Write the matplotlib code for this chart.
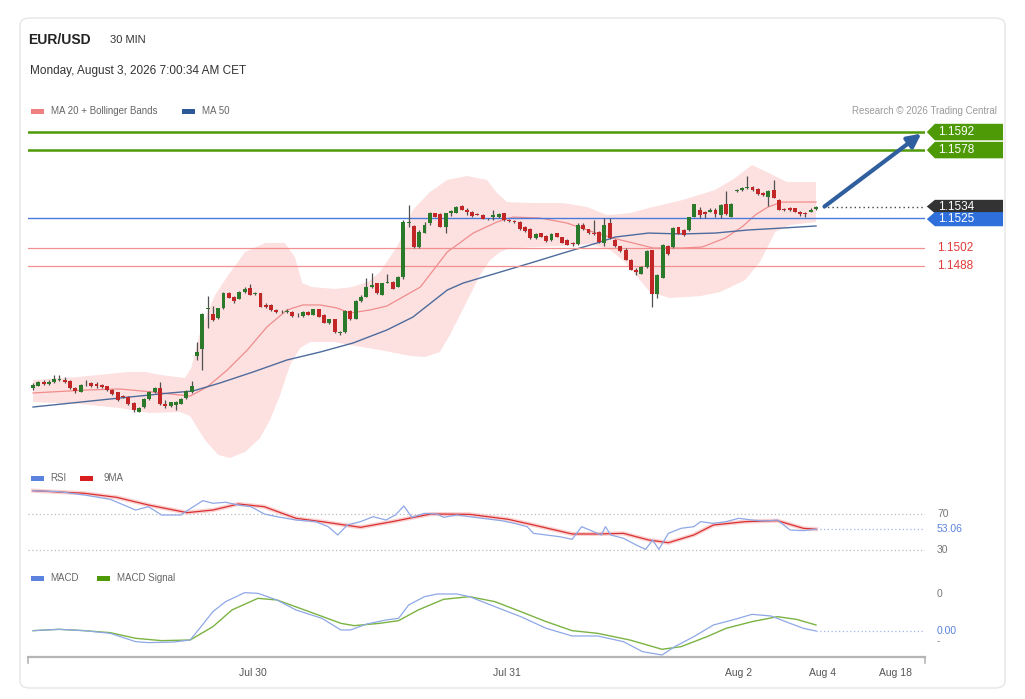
import matplotlib
matplotlib.use("Agg")
import matplotlib.pyplot as plt
import matplotlib.transforms as mtransforms
from matplotlib.patches import Polygon, Rectangle, FancyBboxPatch
import numpy as np

plt.rcParams['font.family'] = ['Liberation Sans', 'DejaVu Sans']

W, H = 1025, 699

# 30 min candles, Jul 29 -> Aug 3
opens = [
    1.13936, 1.13951, 1.13982, 1.13967, 1.13978, 1.13998, 1.13998, 1.13988, 1.13931, 1.13905,
    1.13962, 1.13972, 1.13962, 1.13957, 1.13947, 1.13920, 1.13900, 1.13869, 1.13864, 1.13817,
    1.13750, 1.13786, 1.13848, 1.13900, 1.13936, 1.13812, 1.13796, 1.13802, 1.13812, 1.13854,
    1.13900, 1.14179, 1.14236, 1.14546, 1.14505, 1.14474, 1.14552, 1.14668, 1.14637, 1.14626,
    1.14678, 1.14709, 1.14663, 1.14668, 1.14575, 1.14575, 1.14539, 1.14523, 1.14523, 1.14523,
    1.14498, 1.14492, 1.14523, 1.14502, 1.14544, 1.14500, 1.14436, 1.14467, 1.14363, 1.14368,
    1.14533, 1.14471, 1.14606, 1.14642, 1.14720, 1.14746, 1.14657, 1.14751, 1.14756, 1.14720,
    1.14793, 1.15212, 1.15191, 1.15025, 1.15139, 1.15212, 1.15289, 1.15284, 1.15185, 1.15289,
    1.15294, 1.15346, 1.15315, 1.15299, 1.15284, 1.15278, 1.15247, 1.15263, 1.15258, 1.15289,
    1.15237, 1.15232, 1.15222, 1.15185, 1.15170, 1.15097, 1.15134, 1.15113, 1.15082, 1.15134,
    1.15103, 1.15082, 1.15061, 1.15051, 1.15201, 1.15165, 1.15134, 1.15144, 1.15056, 1.15216,
    1.15082, 1.15035, 1.15007, 1.14929, 1.14847, 1.14820, 1.14872, 1.15002, 1.14661, 1.14789,
    1.15038, 1.15028, 1.15183, 1.15157, 1.15157, 1.15260, 1.15312, 1.15297, 1.15301, 1.15312,
    1.15276, 1.15359, 1.15260, 1.15462, 1.15468, 1.15488, 1.15493, 1.15478, 1.15447, 1.15416,
    1.15472, 1.15395, 1.15322, 1.15328, 1.15328, 1.15297, 1.15291, 1.15301, 1.15322,
]
highs = [
    1.13972, 1.13988, 1.13993, 1.13998, 1.14034, 1.14034, 1.14019, 1.13993, 1.13941, 1.13967,
    1.13998, 1.13982, 1.13978, 1.13967, 1.13951, 1.13926, 1.13905, 1.13879, 1.13869, 1.13823,
    1.13786, 1.13854, 1.13910, 1.13941, 1.13978, 1.13843, 1.13827, 1.13833, 1.13854, 1.13920,
    1.13988, 1.14293, 1.14513, 1.14650, 1.14572, 1.14557, 1.14681, 1.14676, 1.14647, 1.14689,
    1.14715, 1.14741, 1.14678, 1.14673, 1.14591, 1.14585, 1.14549, 1.14539, 1.14549, 1.14533,
    1.14513, 1.14529, 1.14529, 1.14549, 1.14549, 1.14508, 1.14471, 1.14471, 1.14378, 1.14539,
    1.14539, 1.14616, 1.14653, 1.14785, 1.14824, 1.14751, 1.14751, 1.14818, 1.14766, 1.14803,
    1.15237, 1.15356, 1.15201, 1.15160, 1.15222, 1.15297, 1.15294, 1.15289, 1.15294, 1.15317,
    1.15346, 1.15356, 1.15328, 1.15305, 1.15291, 1.15284, 1.15253, 1.15312, 1.15289, 1.15294,
    1.15243, 1.15237, 1.15227, 1.15191, 1.15173, 1.15134, 1.15139, 1.15121, 1.15134, 1.15139,
    1.15108, 1.15087, 1.15066, 1.15212, 1.15212, 1.15170, 1.15237, 1.15154, 1.15253, 1.15253,
    1.15087, 1.15038, 1.15020, 1.14934, 1.14867, 1.14878, 1.15002, 1.15007, 1.14818, 1.15051,
    1.15043, 1.15183, 1.15185, 1.15165, 1.15263, 1.15364, 1.15338, 1.15305, 1.15328, 1.15328,
    1.15359, 1.15462, 1.15369, 1.15478, 1.15493, 1.15576, 1.15498, 1.15483, 1.15454, 1.15468,
    1.15545, 1.15400, 1.15332, 1.15336, 1.15332, 1.15305, 1.15297, 1.15328, 1.15343,
]
lows = [
    1.13920, 1.13947, 1.13957, 1.13957, 1.13972, 1.13988, 1.13972, 1.13926, 1.13895, 1.13900,
    1.13951, 1.13941, 1.13936, 1.13936, 1.13910, 1.13879, 1.13833, 1.13854, 1.13802, 1.13750,
    1.13745, 1.13781, 1.13843, 1.13895, 1.13802, 1.13781, 1.13786, 1.13760, 1.13807, 1.13848,
    1.13895, 1.14148, 1.14073, 1.14397, 1.14453, 1.14469, 1.14546, 1.14630, 1.14595, 1.14622,
    1.14673, 1.14653, 1.14653, 1.14560, 1.14554, 1.14533, 1.14518, 1.14513, 1.14518, 1.14487,
    1.14487, 1.14487, 1.14498, 1.14498, 1.14482, 1.14436, 1.14430, 1.14363, 1.14342, 1.14363,
    1.14461, 1.14467, 1.14601, 1.14637, 1.14709, 1.14663, 1.14653, 1.14746, 1.14699, 1.14715,
    1.14779, 1.15185, 1.15020, 1.15020, 1.15134, 1.15201, 1.15258, 1.15183, 1.15134, 1.15268,
    1.15289, 1.15312, 1.15278, 1.15263, 1.15274, 1.15243, 1.15237, 1.15237, 1.15253, 1.15232,
    1.15222, 1.15216, 1.15160, 1.15144, 1.15087, 1.15087, 1.15103, 1.15066, 1.15077, 1.15103,
    1.15056, 1.15043, 1.15038, 1.15045, 1.15160, 1.15129, 1.15121, 1.15056, 1.15038, 1.15087,
    1.15028, 1.14992, 1.14924, 1.14847, 1.14810, 1.14818, 1.14867, 1.14564, 1.14634, 1.14785,
    1.14966, 1.15020, 1.15129, 1.15113, 1.15152, 1.15258, 1.15255, 1.15255, 1.15297, 1.15260,
    1.15250, 1.15276, 1.15258, 1.15454, 1.15462, 1.15478, 1.15462, 1.15431, 1.15426, 1.15343,
    1.15406, 1.15312, 1.15305, 1.15309, 1.15297, 1.15268, 1.15260, 1.15297, 1.15317,
]
closes = [
    1.13957, 1.13982, 1.13962, 1.13978, 1.14003, 1.14003, 1.13982, 1.13931, 1.13910, 1.13957,
    1.13967, 1.13951, 1.13947, 1.13941, 1.13916, 1.13885, 1.13843, 1.13864, 1.13807, 1.13760,
    1.13781, 1.13848, 1.13900, 1.13931, 1.13807, 1.13796, 1.13823, 1.13827, 1.13848, 1.13910,
    1.13951, 1.14215, 1.14505, 1.14552, 1.14461, 1.14552, 1.14668, 1.14634, 1.14606, 1.14678,
    1.14704, 1.14657, 1.14668, 1.14564, 1.14564, 1.14539, 1.14523, 1.14523, 1.14529, 1.14492,
    1.14502, 1.14523, 1.14502, 1.14544, 1.14487, 1.14440, 1.14467, 1.14368, 1.14368, 1.14533,
    1.14467, 1.14611, 1.14642, 1.14720, 1.14730, 1.14668, 1.14746, 1.14756, 1.14704, 1.14793,
    1.15224, 1.15224, 1.15025, 1.15144, 1.15201, 1.15289, 1.15263, 1.15185, 1.15289, 1.15305,
    1.15340, 1.15315, 1.15299, 1.15268, 1.15278, 1.15247, 1.15243, 1.15274, 1.15284, 1.15237,
    1.15227, 1.15222, 1.15165, 1.15154, 1.15097, 1.15129, 1.15108, 1.15077, 1.15129, 1.15108,
    1.15061, 1.15045, 1.15051, 1.15201, 1.15165, 1.15134, 1.15129, 1.15066, 1.15201, 1.15097,
    1.15035, 1.14997, 1.14929, 1.14851, 1.14831, 1.14872, 1.14997, 1.14661, 1.14810, 1.15043,
    1.14971, 1.15173, 1.15131, 1.15121, 1.15260, 1.15359, 1.15276, 1.15281, 1.15317, 1.15286,
    1.15354, 1.15281, 1.15364, 1.15472, 1.15488, 1.15493, 1.15468, 1.15437, 1.15431, 1.15462,
    1.15410, 1.15317, 1.15312, 1.15317, 1.15301, 1.15286, 1.15281, 1.15317, 1.15338,
]

# bollinger bands / moving averages (candle index, price)
band_up_idx = [0, 8.5, 18.0, 21.2, 24.2, 28.7, 29.9, 31.8, 34.4, 36.9, 40.1, 43.9, 47.6, 49.5,
               50.9, 52.7, 57.1, 60.3, 63.3, 65.6, 69.0, 71.8, 75.0, 78.3, 82.0, 85.8, 87.7,
               89.6, 94.0, 100.2, 104.7, 108.5, 112.9, 116.3, 122.7, 128.9, 132.7, 135.9,
               139.9, 142.5, 148]
band_up = [1.13996, 1.14019, 1.14058, 1.14058, 1.14034, 1.14011, 1.14089, 1.14399, 1.14655,
           1.14810, 1.14989, 1.15059, 1.15059, 1.14950, 1.14748, 1.14717, 1.14702, 1.14717,
           1.14756, 1.14834, 1.15043, 1.15315, 1.15454, 1.15548, 1.15579, 1.15548, 1.15447,
           1.15377, 1.15369, 1.15369, 1.15338, 1.15276, 1.15291, 1.15330, 1.15392, 1.15470,
           1.15563, 1.15664, 1.15586, 1.15532, 1.15532]
band_lo_idx = [0, 8.9, 16.4, 22.1, 27.8, 29.7, 32.5, 35.0, 37.2, 40.1, 42.9, 44.8, 46.7, 48.6,
               50.5, 52.4, 57.1, 59.9, 65.6, 71.3, 74.1, 76.9, 78.8, 80.7, 82.6, 84.5, 86.4,
               88.3, 90.2, 99.6, 105.3, 109.1, 111.9, 114.7, 116.6, 120.4, 126.1, 129.9,
               134.6, 137.4, 140.3, 143.1, 148]
band_lo = [1.13825, 1.13809, 1.13778, 1.13739, 1.13747, 1.13716, 1.13530, 1.13414, 1.13390,
           1.13437, 1.13545, 1.13685, 1.13879, 1.14112, 1.14244, 1.14290, 1.14290, 1.14267,
           1.14228, 1.14182, 1.14174, 1.14213, 1.14345, 1.14500, 1.14655, 1.14810, 1.14927,
           1.14989, 1.15020, 1.15035, 1.15051, 1.15004, 1.14911, 1.14772, 1.14678, 1.14632,
           1.14647, 1.14678, 1.14772, 1.14911, 1.15144, 1.15198, 1.15222]
ma20_idx = [0, 10.2, 16.4, 22.7, 27.8, 29.7, 32.9, 36.7, 40.5, 44.2, 48.0, 51.0, 54.3, 57.5,
            59.9, 63.7, 66.9, 69.9, 73.2, 78.3, 83.2, 87.7, 90.7, 95.8, 100.9, 105.9, 109.6,
            113.4, 117.2, 122.7, 126.5, 130.8, 134.0, 136.5, 138.9, 141.6, 145.4, 148]
ma20 = [1.13895, 1.13918, 1.13926, 1.13902, 1.13879, 1.13871, 1.13941, 1.14073, 1.14228,
        1.14407, 1.14539, 1.14578, 1.14578, 1.14554, 1.14515, 1.14539, 1.14570, 1.14640,
        1.14717, 1.14989, 1.15136, 1.15222, 1.15260, 1.15253, 1.15214, 1.15144, 1.15097,
        1.15059, 1.15020, 1.15020, 1.15028, 1.15097, 1.15183, 1.15276, 1.15338, 1.15377,
        1.15377, 1.15377]
ma50_idx = [0, 16.4, 25.9, 30.2, 35.3, 41.6, 48.0, 54.3, 60.5, 66.9, 71.8, 78.3, 81.3, 87.7,
            94.0, 100.2, 106.6, 110.0, 116.3, 122.7, 128.9, 135.2, 141.6, 148]
ma50 = [1.13786, 1.13856, 1.13895, 1.13910, 1.13972, 1.14058, 1.14151, 1.14213, 1.14283,
        1.14384, 1.14484, 1.14694, 1.14748, 1.14826, 1.14903, 1.14981, 1.15059, 1.15105,
        1.15136, 1.15129, 1.15136, 1.15160, 1.15175, 1.15191]

# support / resistance levels
targets = [1.1592, 1.1578]
pivot = 1.1525
supports = [1.1502, 1.1488]

# RSI panel
rsi_idx = [0, 4.9, 9.7, 14.6, 19.4, 21.8, 24.3, 27.9, 30.3, 32.1, 34.0, 36.4, 38.8, 41.2, 43.7,
           46.1, 49.7, 53.4, 55.8, 57.6, 59.4, 61.9, 64.3, 66.7, 68.5, 70.1, 71.6, 74.0, 76.4,
           77.6, 80.1, 82.5, 84.9, 88.5, 91.0, 93.4, 94.6, 97.0, 99.5, 101.9, 103.7, 105.5,
           107.4, 108.2, 109.2, 111.6, 114.0, 115.8, 117.1, 118.3, 120.1, 122.5, 124.9, 126.2,
           128.6, 131.0, 133.4, 135.9, 138.3, 140.7, 143.1, 145.6, 148]
rsi = [95.9, 94.8, 91.1, 86.3, 74.4, 78.1, 68.9, 68.9, 78.1, 84.8, 81.9, 83.0, 80.0, 78.1, 70.0,
       67.0, 63.3, 61.5, 55.9, 46.7, 57.8, 61.5, 67.0, 63.3, 68.9, 78.9, 66.3, 70.7, 70.0, 66.3,
       68.9, 67.0, 65.2, 62.6, 59.6, 55.9, 48.5, 46.7, 44.8, 41.9, 55.9, 51.5, 46.7, 55.9, 46.7,
       43.0, 35.6, 30.7, 41.1, 30.7, 48.5, 54.1, 55.9, 61.5, 59.6, 61.5, 65.2, 63.3, 62.2, 63.3,
       52.2, 51.5, 53.06]
rsi_ma_idx = [0, 9.7, 15.8, 21.8, 29.1, 34.0, 38.8, 43.7, 49.7, 54.6, 61.9, 67.9, 75.2, 82.5,
              89.8, 94.6, 101.9, 106.7, 111.6, 116.4, 120.1, 124.9, 128.6, 134.6, 140.7, 145.6, 148]
rsi_ma = [95.9, 93.0, 88.5, 80.0, 71.5, 74.4, 81.1, 78.1, 65.2, 61.5, 55.2, 61.5, 70.0, 69.6,
          64.1, 57.8, 47.8, 47.8, 48.5, 41.1, 38.1, 46.7, 57.8, 61.5, 62.6, 54.1, 53.06]

# MACD panel (x 0.001)
macd_idx = [0, 4.9, 9.7, 14.6, 19.4, 21.8, 26.7, 29.7, 31.5, 34.0, 36.4, 40.0, 42.5, 46.1, 49.7,
            54.6, 58.2, 60.0, 63.1, 66.7, 69.1, 71.0, 74.0, 76.4, 80.1, 82.5, 87.3, 92.2, 97.0,
            101.9, 106.7, 111.6, 115.2, 118.9, 121.3, 124.9, 128.6, 132.2, 135.9, 139.5, 143.1,
            145.6, 148]
macd = [0.009, 0.045, 0.009, -0.063, -0.288, -0.315, -0.297, -0.243, 0.072, 0.523, 0.793, 1.036,
        1.018, 0.838, 0.568, 0.342, 0.027, 0.027, 0.189, 0.297, 0.342, 0.703, 0.928, 1.000,
        1.000, 0.928, 0.658, 0.387, 0.072, -0.135, -0.135, -0.288, -0.559, -0.649, -0.423,
        -0.153, 0.162, 0.297, 0.450, 0.405, 0.207, 0.072, 0.0]
signal_idx = [0, 4.9, 9.7, 14.6, 19.4, 24.3, 29.7, 34.0, 37.6, 42.5, 46.1, 52.2, 58.2, 60.7,
              65.5, 69.1, 72.8, 77.6, 82.5, 87.3, 92.2, 97.0, 101.9, 106.7, 112.8, 118.9, 122.5,
              127.4, 131.0, 135.9, 140.7, 144.3, 148]
signal = [0.009, 0.045, 0.009, -0.045, -0.198, -0.261, -0.243, 0.117, 0.568, 0.883, 0.838,
          0.523, 0.207, 0.144, 0.207, 0.279, 0.568, 0.856, 0.928, 0.793, 0.523, 0.252, 0.009,
          -0.063, -0.243, -0.495, -0.423, -0.153, 0.072, 0.252, 0.387, 0.315, 0.162]

tick_pos = [41.6, 89.6, 133.3, 149.2, 163.0]
tick_labels = ["Jul 30", "Jul 31", "Aug 2", "Aug 4", "Aug 18"]

XLIM = (-0.95, 168.6)


def fbox(x0, y0, x1, y1):
    # pixel box -> figure fraction rect
    return [x0 / W, 1 - y1 / H, (x1 - x0) / W, (y1 - y0) / H]


def price_tag(ax, price, text, color, half, z):
    tr = mtransforms.blended_transform_factory(ax.transAxes, ax.transData)
    pts = [(1.002, price), (1.011, price + half), (1.087, price + half),
           (1.087, price - half), (1.011, price - half)]
    ax.add_patch(Polygon(pts, closed=True, transform=tr, facecolor=color,
                         edgecolor='none', clip_on=False, zorder=z))
    ax.text(1.0145, price, text, transform=tr, color='white', fontsize=8.5,
            va='center', ha='left', clip_on=False, zorder=z + 0.1)


def draw_price(fig):
    ax = fig.add_axes(fbox(28, 122, 925, 465))
    ax.set_xlim(*XLIM)
    ax.set_ylim(1.13336, 1.15998)
    ax.axis('off')

    ax.fill(np.concatenate([band_up_idx, band_lo_idx[::-1]]),
            np.concatenate([band_up, band_lo[::-1]]),
            color='#fde1e1', lw=0, zorder=1)
    ax.plot(ma20_idx, ma20, color='#f08c8c', lw=0.9, zorder=2)
    ax.plot(ma50_idx, ma50, color='#4d6b9c', lw=1.0, zorder=2)

    for t in targets:
        ax.axhline(t, color='#4e9a06', lw=1.8, zorder=3)
    ax.axhline(pivot, color='#4a7bdc', lw=1.0, zorder=3)
    for s in supports:
        ax.axhline(s, color='#f29090', lw=0.9, zorder=3)

    o = np.array(opens)
    c = np.array(closes)
    idx = np.arange(len(c))
    cols = np.where(np.abs(c - o) < 0.00003, '#444444',
                    np.where(c > o, '#2b7a2b', '#c22626'))
    ax.vlines(idx, lows, highs, colors='#505050', lw=0.9, zorder=4)
    ax.bar(idx, np.maximum(np.abs(c - o), 0.00002), bottom=np.minimum(o, c),
           width=0.74, color=cols, lw=0, zorder=5)

    last = closes[-1]
    ax.hlines(last, len(c) + 0.3, XLIM[1], colors='#444444', lw=1.0,
              linestyles=(0, (1, 2.2)), zorder=3)
    ax.annotate('', xy=(167.9, targets[0] - 0.00012), xytext=(len(c) + 0.6, last + 0.00004),
                arrowprops=dict(arrowstyle='-|>', color='#2f5f9f', lw=3,
                                mutation_scale=20, shrinkA=0, shrinkB=0), zorder=6)

    price_tag(ax, targets[0], "%.4f" % targets[0], '#4e9a06', 0.00064, 7)
    price_tag(ax, targets[1], "%.4f" % targets[1], '#4e9a06', 0.00064, 7)
    price_tag(ax, 1.15342, "%.4f" % last, '#333333', 0.00052, 7)
    price_tag(ax, pivot - 0.00006, "%.4f" % pivot, '#2e6fdc', 0.00055, 8)
    tr = mtransforms.blended_transform_factory(ax.transAxes, ax.transData)
    for s in supports:
        ax.text(1.0134, s, "%.4f" % s, transform=tr, color='#e03a3a', fontsize=8.5,
                va='center', ha='left', clip_on=False)


def draw_rsi(fig):
    ax = fig.add_axes(fbox(28, 485, 925, 560))
    ax.set_xlim(*XLIM)
    ax.set_ylim(18.9, 102.2)
    ax.axis('off')
    for lvl in [70, 30]:
        ax.axhline(lvl, color='#bdbdbd', lw=0.9, linestyle=(0, (1, 2)))
    ax.plot(rsi_ma_idx, rsi_ma, color='#f7b3b3', lw=3.0, alpha=0.6)
    ax.plot(rsi_ma_idx, rsi_ma, color='#d93030', lw=0.9)
    ax.plot(rsi_idx, rsi, color='#8ea8e6', lw=0.9)
    ax.hlines(rsi[-1], rsi_idx[-1], XLIM[1], colors='#9fb4ea', lw=0.9, linestyles=(0, (1, 2)))
    tr = mtransforms.blended_transform_factory(ax.transAxes, ax.transData)
    ax.text(1.0134, 70, "70", transform=tr, color='#777777', fontsize=7.5, va='center')
    ax.text(1.0134, 30, "30", transform=tr, color='#777777', fontsize=7.5, va='center')
    ax.text(1.0134, rsi[-1], "%.2f" % rsi[-1], transform=tr, color='#5b82dc',
            fontsize=7.5, va='center')


def draw_macd(fig):
    ax = fig.add_axes(fbox(28, 585, 925, 657))
    ax.set_xlim(*XLIM)
    ax.set_ylim(-0.703, 1.243)
    for side in ['top', 'left', 'right']:
        ax.spines[side].set_visible(False)
    ax.spines['bottom'].set_color('#b5b5b5')
    ax.spines['bottom'].set_linewidth(1.6)
    ax.set_yticks([])
    ax.set_xticks(tick_pos)
    ax.set_xticklabels(tick_labels)
    ax.tick_params(axis='x', length=0, pad=8, labelsize=7.5, labelcolor='#555555')
    for xa in [0, 1]:
        ax.plot([xa, xa], [0, -0.09], transform=ax.transAxes, color='#b5b5b5',
                lw=1.2, clip_on=False)
    ax.plot(signal_idx, signal, color='#7bb342', lw=1.0)
    ax.plot(macd_idx, macd, color='#8ea8e6', lw=0.9)
    ax.hlines(macd[-1], macd_idx[-1], XLIM[1], colors='#9fb4ea', lw=0.9, linestyles=(0, (1, 2)))
    tr = mtransforms.blended_transform_factory(ax.transAxes, ax.transData)
    ax.text(1.0134, 1.0, "0", transform=tr, color='#777777', fontsize=7.5, va='center')
    ax.text(1.0134, macd[-1], "%.2f" % macd[-1], transform=tr, color='#5b82dc',
            fontsize=7.5, va='center')
    ax.text(1.0134, -0.27, "-", transform=tr, color='#777777', fontsize=7, va='center')


def swatch(fig, x, y, color, label, lx):
    fig.add_artist(Rectangle((x / W, 1 - (y + 2.5) / H), 13 / W, 5 / H,
                             transform=fig.transFigure, color=color, lw=0))
    fig.text(lx / W, 1 - y / H, label, fontsize=7, color='#666666', va='center')


def header(fig):
    fig.add_artist(FancyBboxPatch((20 / W, 1 - 688 / H), 985 / W, 670 / H,
                                  boxstyle='round,pad=0,rounding_size=0.01',
                                  transform=fig.transFigure, facecolor='white',
                                  edgecolor='#e6e6e6', lw=1.0, zorder=0))
    fig.text(28 / W, 1 - 40 / H, "EUR/USD", fontsize=10, fontweight='bold',
             color='#222222', va='center')
    fig.text(110 / W, 1 - 40 / H, "30 MIN", fontsize=8, color='#333333', va='center')
    fig.text(30 / W, 1 - 71 / H, "Monday, August 3, 2026 7:00:34 AM CET", fontsize=8.5,
             color='#333333', va='center')
    swatch(fig, 31, 111, '#f08080', "MA 20 + Bollinger Bands", 51)
    swatch(fig, 182, 111, '#2c5a96', "MA 50", 202)
    fig.text(997 / W, 1 - 111 / H, "Research \u00a9 2026 Trading Central", fontsize=7,
             color='#9a9a9a', va='center', ha='right')
    swatch(fig, 31, 478, '#5b82dc', "RSI", 50)
    swatch(fig, 80, 478, '#d81e1e', "9MA", 103)
    swatch(fig, 31, 578, '#5b82dc', "MACD", 50)
    swatch(fig, 97, 578, '#4e9a06', "MACD Signal", 117)


def main():
    fig = plt.figure(figsize=(W / 100, H / 100), dpi=100)
    fig.patch.set_facecolor('white')
    header(fig)
    draw_price(fig)
    draw_rsi(fig)
    draw_macd(fig)
    fig.savefig("out.png", dpi=100, facecolor='white')


if __name__ == "__main__":
    main()
